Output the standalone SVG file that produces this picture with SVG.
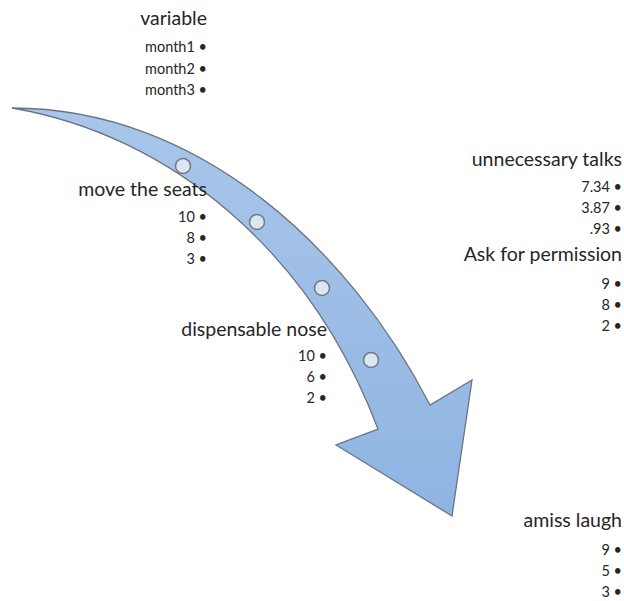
<svg xmlns="http://www.w3.org/2000/svg" width="624" height="601" viewBox="0 0 624 601">
<defs>
<linearGradient id="g" x1="0" y1="0" x2="0" y2="1">
<stop offset="0" stop-color="#a9c6ea"/>
<stop offset="1" stop-color="#8fb4e2"/>
</linearGradient>
<style>
.t{font-family:Lato,"Liberation Sans",sans-serif;font-size:19.5px;fill:#262626;text-anchor:end}
.b{font-family:Lato,"Liberation Sans",sans-serif;font-size:14.5px;fill:#262626;text-anchor:end}
.dot{fill:#dde7f3;stroke:#6f7780;stroke-width:1.5}
</style>
</defs>
<rect width="624" height="601" fill="#ffffff"/>
<g id="connectors">
<path id="arrow" d="M12,108 C200,108 350,250 430,405 L472,380 L452,516 L336,445 L378,429 C310,250 170,135 12,108 Z" fill="url(#g)" stroke="#6b7480" stroke-width="1.3" stroke-linejoin="miter"/>
<circle class="dot" cx="183" cy="166" r="7.5"/>
<circle class="dot" cx="257" cy="222" r="7.5"/>
<circle class="dot" cx="322" cy="288" r="7.5"/>
<circle class="dot" cx="371" cy="360" r="7.5"/>
</g>
<g id="variable">
<text class="t" x="207" y="25">variable</text>
<text class="b" x="207" y="52">month1 •</text>
<text class="b" x="207" y="74">month2 •</text>
<text class="b" x="207" y="95">month3 •</text>
</g>
<g id="move-the-seats">
<text class="t" x="207" y="196">move the seats</text>
<text class="b" x="207" y="222">10 •</text>
<text class="b" x="207" y="243">8 •</text>
<text class="b" x="207" y="264">3 •</text>
</g>
<g id="dispensable-nose">
<text class="t" x="327" y="336">dispensable nose</text>
<text class="b" x="327" y="361">10 •</text>
<text class="b" x="327" y="382">6 •</text>
<text class="b" x="327" y="403">2 •</text>
</g>
<g id="unnecessary-talks">
<text class="t" x="622" y="166">unnecessary talks</text>
<text class="b" x="622" y="192">7.34 •</text>
<text class="b" x="622" y="213">3.87 •</text>
<text class="b" x="622" y="234">.93 •</text>
</g>
<g id="ask-for-permission">
<text class="t" x="622" y="261">Ask for permission</text>
<text class="b" x="622" y="289">9 •</text>
<text class="b" x="622" y="310">8 •</text>
<text class="b" x="622" y="331">2 •</text>
</g>
<g id="amiss-laugh">
<text class="t" x="622" y="527">amiss laugh</text>
<text class="b" x="622" y="555">9 •</text>
<text class="b" x="622" y="576">5 •</text>
<text class="b" x="622" y="597">3 •</text>
</g>
</svg>
